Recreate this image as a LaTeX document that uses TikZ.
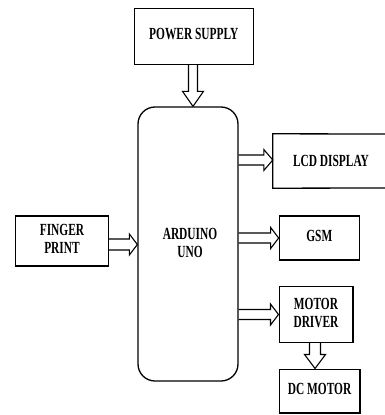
\documentclass[tikz,border=0pt]{standalone}
\usepackage{fontspec}
\setmainfont{Liberation Serif}
\usepackage{graphicx}
\usetikzlibrary{calc}
\newcommand\lb[1]{\scalebox{0.67}[1]{\fontsize{17}{18}\selectfont\bfseries\begin{tabular}{@{}c@{}}#1\end{tabular}}}
% horizontal hollow arrow: #1 source, #2 target, #3 y reference, #4 shaft half width, #5 head length
\newcommand\fatR[5]{%
  \draw[fat] let \p1=(#1.east), \p2=(#2.west), \p3=(#3) in
    (\x1,{\y3+#4}) -- ({\x2-#5},{\y3+#4}) -- ({\x2-#5},{\y3+10.5pt}) -- (\x2,\y3)
    -- ({\x2-#5},{\y3-10.5pt}) -- ({\x2-#5},{\y3-#4}) -- (\x1,{\y3-#4});}
% vertical hollow arrow downwards
\newcommand\fatD[5]{%
  \draw[fat] let \p1=(#1.south), \p2=(#2.north), \p3=(#3) in
    ({\x3-#4},\y1) -- ({\x3-#4},{\y2+#5}) -- ({\x3-10.5pt},{\y2+#5}) -- (\x3,\y2)
    -- ({\x3+10.5pt},{\y2+#5}) -- ({\x3+#4},{\y2+#5}) -- ({\x3+#4},\y1);}
\tikzset{
  blk/.style={draw, line width=1.3pt, inner sep=0pt, anchor=center},
  edge/.style={line width=1.3pt, line join=miter},
  fat/.style={line width=1.1pt, line join=miter},
}
\begin{document}
\begin{tikzpicture}[x=1pt,y=-1pt]
\useasboundingbox (0,0) rectangle (385,415);
\fill[white] (0,0) rectangle (385,415);
\node[blk, minimum width=119pt, minimum height=56pt] (ps) at (193.8,36.2) {\lb{POWER SUPPLY}};
\node[blk, rounded corners=17pt, minimum width=100pt, minimum height=274pt] (ard) at (188,244) {};
\node (ardt) at (190,245) {\lb{ARDUINO\\UNO}};
\node[inner sep=0pt, minimum width=119pt, minimum height=54pt] (lcd) at (332.5,161) {};
\draw[edge] (385,134) -- (lcd.north west) -- (lcd.south west) -- (385,188);
\node (lcdt) at (331,163) {\lb{LCD DISPLAY}};
\node[blk, minimum width=80pt, minimum height=44pt] (gsm) at (319.3,238) {\lb{GSM}};
\node[blk, minimum width=92.6pt, minimum height=50pt] (fp) at (62,241) {\lb{FINGER\\PRINT}};
\node[blk, minimum width=73.7pt, minimum height=55.6pt] (md) at (316,314.5) {\lb{MOTOR\\DRIVER}};
\node[blk, minimum width=80.7pt, minimum height=43.7pt] (dc) at (319.6,391) {\lb{DC MOTOR}};
\coordinate (psx) at (193,0);
\coordinate (mdx) at (315,0);
\fatD{ps}{ard}{psx}{4.5pt}{15pt}
\fatD{md}{dc}{mdx}{5.5pt}{14pt}
\fatR{ard}{lcd}{[yshift=1pt]lcd.center}{5pt}{9pt}
\fatR{ard}{gsm}{gsm.center}{5pt}{8pt}
\fatR{ard}{md}{md.center}{5pt}{8pt}
\fatR{fp}{ard}{[yshift=-3.5pt]fp.center}{5.5pt}{8pt}
\end{tikzpicture}
\end{document}
